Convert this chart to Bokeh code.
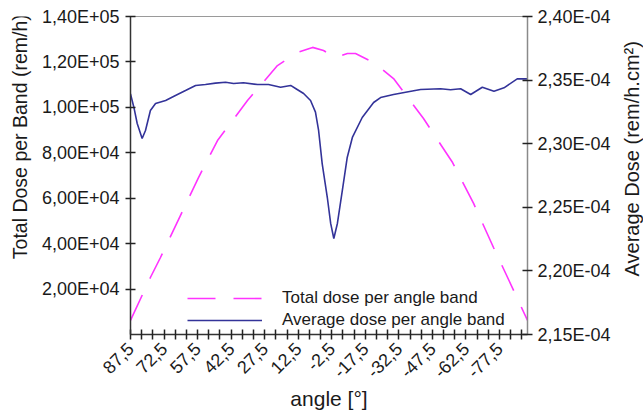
from bokeh.plotting import figure
from bokeh.layouts import row
from bokeh.models import (Range1d, LinearAxis, FixedTicker, CustomJSTickFormatter,
                          Legend, LegendItem)
from bokeh.core.properties import value
from bokeh.embed import file_html
from bokeh.resources import INLINE
import math

# Total dose per angle band (left axis, rem/h)
total_angle = [87.5, 78.6, 74.1, 57.1, 48.6, 35.2, 21.8, 12.8, 6.1, 1.2, -4.2,
               -9.5, -13.1, -21.2, -30.1, -43.5, -56.5, -65.9, -74.8, -81.1, -90.0]
total_dose = [6200, 25100, 33900, 69100, 85400, 103000, 118400, 124200, 126400,
              125000, 122000, 123700, 123700, 119700, 112700, 95100, 75700,
              57700, 38300, 25100, 6200]

# Average dose per angle band (right axis, rem/h.cm2)
avg_angle = [87.5, 86.0, 84.5, 82.3, 80.8, 78.6, 76.3, 71.8, 67.4, 62.9, 58.4,
             54.0, 49.5, 45.0, 41.4, 37.0, 30.7, 25.8, 20.4, 15.9, 13.7, 10.1,
             7.0, 4.8, 3.4, 1.8, -0.5, -2.0, -3.4, -5.0, -7.2, -9.4, -11.7,
             -16.1, -21.2, -24.3, -30.1, -35.5, -42.2, -51.1, -55.6, -60.1,
             -64.6, -69.8, -75.0, -79.5, -85.4, -89.9]
avg_dose = [2.3392, 2.3287, 2.3159, 2.3041, 2.3104, 2.3261, 2.3316, 2.3340,
            2.3379, 2.3418, 2.3458, 2.3465, 2.3476, 2.3483, 2.3473, 2.3479,
            2.3465, 2.3465, 2.3444, 2.3458, 2.3434, 2.3395, 2.3340, 2.3248,
            2.3104, 2.2844, 2.2577, 2.2373, 2.2255, 2.2373, 2.2632, 2.2892,
            2.3049, 2.3206, 2.3324, 2.3363, 2.3387, 2.3405, 2.3426, 2.3432,
            2.3424, 2.3432, 2.3387, 2.3444, 2.3413, 2.3439, 2.3510, 2.3510]
avg_dose = [v * 1e-4 for v in avg_dose]

left_ticks = [20000, 40000, 60000, 80000, 100000, 120000, 140000]
right_ticks = [2.15e-4, 2.20e-4, 2.25e-4, 2.30e-4, 2.35e-4, 2.40e-4]
x_ticks = [87.5 - 5 * i for i in range(36)]

left_title = "Total Dose per Band (rem/h)"
right_title = "Average Dose (rem/h.cm²)"
x_title = "angle [°]"

MAGENTA = "#ff33ff"
BLUE = "#333399"
TXT = "#1a1a1a"
H = 418

p = figure(width=581, height=H, output_backend="svg", toolbar_location=None,
           x_range=Range1d(87.5, -90.0), y_range=Range1d(0, 140000),
           min_border_left=96, min_border_right=88, min_border_top=16,
           min_border_bottom=84)
p.extra_y_ranges = {"avg": Range1d(2.15e-4, 2.40e-4)}
p.xgrid.visible = False
p.ygrid.visible = False
p.outline_line_color = "#9a9a9a"
p.background_fill_color = "white"

exp_fmt = CustomJSTickFormatter(code="""
var s = tick.toExponential(2).split('e');
var m = s[0].replace('.', ',');
var e = parseInt(s[1]);
var a = Math.abs(e);
return m + 'E' + (e < 0 ? '-' : '+') + (a < 10 ? '0' : '') + a;
""")

x_fmt = CustomJSTickFormatter(code="""
var k = Math.round((87.5 - tick) / 5);
if (k % 3 != 0) { return ''; }
return tick.toFixed(1).replace('.', ',');
""")

def style_axis(ax, label_size="18px"):
    ax.major_label_text_font = "Liberation Sans"
    ax.major_label_text_font_size = label_size
    ax.major_label_text_color = TXT
    ax.axis_label_text_font = "Liberation Sans"
    ax.axis_label_text_font_size = "21px"
    ax.axis_label_text_font_style = "normal"
    ax.axis_label_text_color = TXT
    ax.major_tick_in = 5
    ax.major_tick_out = 5
    ax.minor_tick_line_color = None
    ax.major_tick_line_color = "#222222"
    ax.major_tick_line_width = 1.5

yl = p.yaxis[0]
yl.ticker = FixedTicker(ticks=left_ticks)
yl.formatter = exp_fmt
style_axis(yl)
yl.axis_line_color = "#333333"
yl.axis_line_width = 1.5
yl.major_label_standoff = 6

xa = p.xaxis[0]
xa.ticker = FixedTicker(ticks=x_ticks)
xa.formatter = x_fmt
xa.axis_label = x_title
style_axis(xa, "18px")
xa.major_label_orientation = math.pi / 4
xa.axis_line_color = "#333333"
xa.axis_line_width = 1.5
xa.major_label_standoff = 6
xa.axis_label_standoff = 0

yr = LinearAxis(y_range_name="avg", ticker=FixedTicker(ticks=right_ticks),
                formatter=exp_fmt)
style_axis(yr)
yr.axis_line_color = "#8a8a8a"
yr.axis_line_width = 1.5
yr.major_label_standoff = 5
p.add_layout(yr, "right")

r_total = p.line(total_angle, total_dose, line_color=MAGENTA, line_width=1.6,
                 line_dash="28 18")
r_avg = p.line(avg_angle, avg_dose, y_range_name="avg", line_color=BLUE,
               line_width=1.6)

legend = Legend(items=[LegendItem(label="Total dose per angle band", renderers=[r_total]),
                       LegendItem(label="Average dose per angle band", renderers=[r_avg])],
                location=(57, 3), padding=0, margin=0, spacing=0,
                glyph_width=75, glyph_height=22, label_height=22,
                label_standoff=20, border_line_alpha=0, background_fill_alpha=0,
                label_text_font="Liberation Sans", label_text_font_size="17px",
                label_text_color=TXT)
p.add_layout(legend, "center")


def title_strip(width, text, cx, cy, size):
    f = figure(width=width, height=H, output_backend="svg", toolbar_location=None,
               x_range=Range1d(0, width), y_range=Range1d(0, H),
               x_axis_type=None, y_axis_type=None,
               min_border_left=0, min_border_right=0, min_border_top=0,
               min_border_bottom=0)
    f.xgrid.visible = False
    f.ygrid.visible = False
    f.outline_line_color = None
    f.text(x=[cx], y=[H - cy], text=[text], angle=math.pi / 2,
           text_align="center", text_baseline="middle",
           text_font=value("Liberation Sans"), text_font_size=size,
           text_color=TXT)
    return f

left_strip = title_strip(34, left_title, 19.5, 158, "19.5px")
right_strip = title_strip(28, right_title, 16, 187, "20px")

layout = row(left_strip, p, right_strip, spacing=0)

open("out.html", "w").write(file_html(layout, INLINE))
